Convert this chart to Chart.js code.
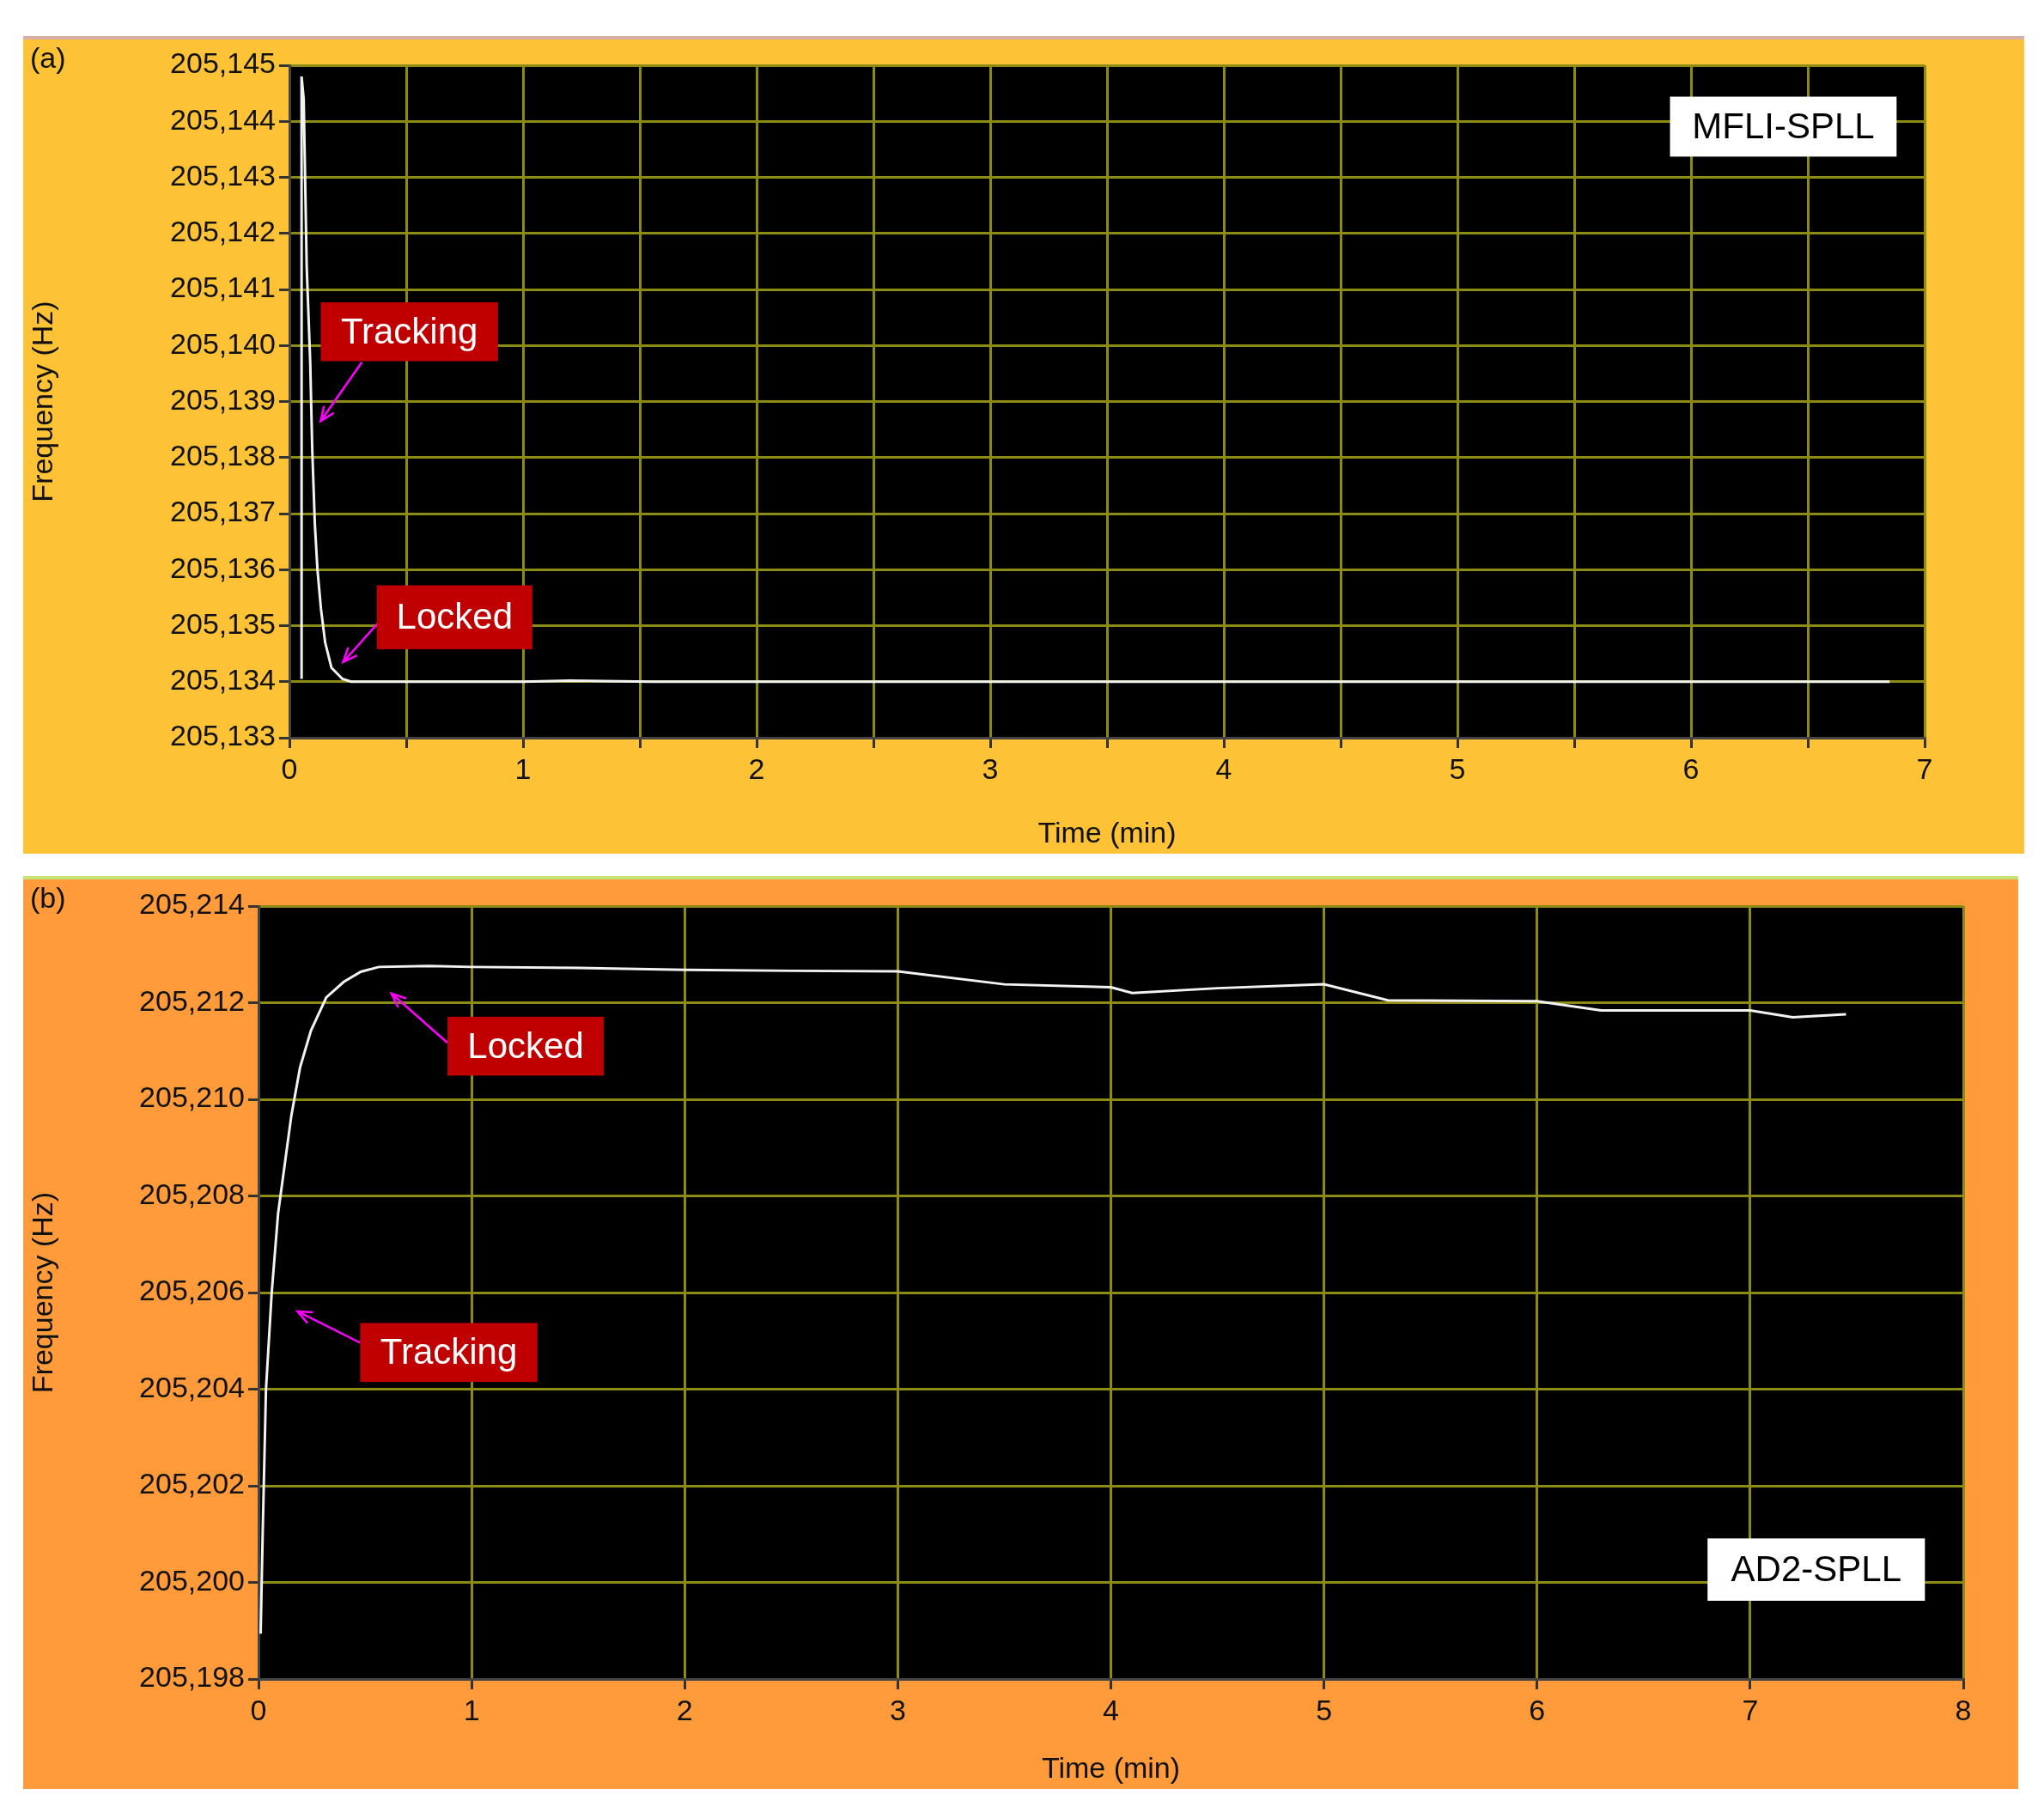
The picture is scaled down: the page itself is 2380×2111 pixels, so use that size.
<!DOCTYPE html>
<html>
<head>
<meta charset="utf-8">
<script src="https://cdn.jsdelivr.net/npm/chart.js@4.4.1/dist/chart.umd.min.js"></script>
<style>
  body { margin: 0; background: #fff; width: 2380px; height: 2111px; position: relative; font-family: "Liberation Sans", Arial, sans-serif; }
  .frame { position: absolute; }
  #fa { left: 27px; top: 42px; width: 2330px; height: 952px; background: #fdc236; border-top: 4px solid #d9b0a8; box-sizing: border-box; }
  #fb { left: 27px; top: 1020px; width: 2323px; height: 1063px; background: #ff9b3a; border-top: 4px solid #c8e27a; box-sizing: border-box; }
  .tag { position: absolute; left: 8px; top: 2px; font-size: 34px; color: #111; }
  canvas { position: absolute; left: 0; top: 0; }
</style>
</head>
<body>
<div class="frame" id="fa"><canvas id="ca"></canvas><div class="tag">(a)</div></div>
<div class="frame" id="fb"><canvas id="cb"></canvas><div class="tag">(b)</div></div>
<script>
// panel (a) MFLI-SPLL
const timeA = [0.052, 0.052, 0.061, 0.074, 0.089, 0.098, 0.109, 0.12, 0.135, 0.153, 0.18, 0.227, 0.264, 1.0, 1.2, 1.55, 3, 5, 6.85];
const freqA = [205134.05, 205144.8, 205144.4, 205141.4, 205139.7, 205138.1, 205136.8, 205136.0, 205135.3, 205134.7, 205134.25, 205134.05, 205134.0, 205134.0, 205134.02, 205134.0, 205134.0, 205134.0, 205134.0];
// panel (b) AD2-SPLL
const timeB = [0.01, 0.02, 0.035, 0.062, 0.092, 0.123, 0.154, 0.195, 0.246, 0.318, 0.40, 0.48, 0.565, 0.8, 1.0, 1.5, 2.0, 2.5, 3.0, 3.5, 4.0, 4.1, 4.5, 5.0, 5.3, 6.0, 6.3, 7.0, 7.2, 7.45];
const freqB = [205198.94, 205201.08, 205203.99, 205206.0, 205207.64, 205208.65, 205209.66, 205210.66, 205211.42, 205212.11, 205212.43, 205212.64, 205212.74, 205212.76, 205212.74, 205212.72, 205212.68, 205212.66, 205212.65, 205212.38, 205212.32, 205212.2, 205212.3, 205212.38, 205212.05, 205212.03, 205211.84, 205211.84, 205211.7, 205211.76];

const gridColor = '#8c8c14';
const tickFont = { family: '"Liberation Sans", Arial, sans-serif', size: 34 };

function fmtHz(v) {
  const k = Math.floor(v / 1000);
  return k + ',' + String(Math.round(v - k * 1000)).padStart(3, '0');
}

const blackArea = {
  id: 'blackArea',
  beforeDraw(chart) {
    const a = chart.chartArea, c = chart.ctx;
    c.save(); c.fillStyle = '#000'; c.fillRect(a.left, a.top, a.right - a.left, a.bottom - a.top); c.restore();
  }
};

// notes: boxes and arrows placed in data units
const notes = {
  id: 'notes',
  afterDatasetsDraw(chart, args, opts) {
    const c = chart.ctx, x = chart.scales.x, y = chart.scales.y;
    c.save();
    (opts.arrows || []).forEach(a => {
      const x0 = x.getPixelForValue(a[0]), y0 = y.getPixelForValue(a[1]);
      const x1 = x.getPixelForValue(a[2]), y1 = y.getPixelForValue(a[3]);
      c.strokeStyle = '#ff00ff'; c.lineWidth = 2.5;
      c.beginPath(); c.moveTo(x0, y0); c.lineTo(x1, y1); c.stroke();
      const ang = Math.atan2(y1 - y0, x1 - x0), h = 18;
      c.beginPath();
      c.moveTo(x1 - h * Math.cos(ang - 0.4), y1 - h * Math.sin(ang - 0.4));
      c.lineTo(x1, y1);
      c.lineTo(x1 - h * Math.cos(ang + 0.4), y1 - h * Math.sin(ang + 0.4));
      c.stroke();
    });
    (opts.boxes || []).forEach(b => {
      const l = x.getPixelForValue(b.x0), r = x.getPixelForValue(b.x1);
      const t = y.getPixelForValue(b.y0), bt = y.getPixelForValue(b.y1);
      c.fillStyle = b.bg; c.fillRect(l, t, r - l, bt - t);
      c.fillStyle = b.fg; c.font = '42px "Liberation Sans", Arial, sans-serif';
      c.textAlign = 'center'; c.textBaseline = 'middle';
      c.fillText(b.text, (l + r) / 2, (t + bt) / 2 + 2);
    });
    c.restore();
  }
};

function makeChart(id, w, h, xs, ys, xMax, xStep, yMin, yMax, yStep, yW, xH, padTop, padRight, noteOpts) {
  const cv = document.getElementById(id);
  cv.width = w; cv.height = h; cv.style.width = w + 'px'; cv.style.height = h + 'px';
  return new Chart(cv, {
    type: 'line',
    data: { datasets: [{ data: xs.map((t, i) => ({ x: t, y: ys[i] })), borderColor: '#f2f2f2', borderWidth: 3, pointRadius: 0, tension: 0 }] },
    options: {
      responsive: false, animation: false, devicePixelRatio: 1,
      layout: { padding: { top: padTop, right: padRight, left: 0, bottom: 0 } },
      plugins: { legend: { display: false }, tooltip: { enabled: false }, notes: noteOpts },
      scales: {
        x: {
          type: 'linear', min: 0, max: xMax,
          ticks: { stepSize: xStep, color: '#111', font: tickFont, maxRotation: 0, autoSkip: false, padding: 6,
            callback: v => Number.isInteger(v) ? String(v) : '' },
          grid: { color: gridColor, lineWidth: 3, tickColor: '#333', tickLength: 12, tickWidth: 3 },
          border: { color: '#444', width: 3 },
          title: { display: true, text: 'Time (min)', color: '#111', font: { size: 34 }, padding: 2 },
          afterFit: s => { s.height = xH; }
        },
        y: {
          min: yMin, max: yMax,
          ticks: { stepSize: yStep, color: '#111', font: tickFont, padding: 4, callback: fmtHz },
          grid: { color: gridColor, lineWidth: 3, tickColor: '#333', tickLength: 12, tickWidth: 3 },
          border: { color: '#444', width: 3 },
          title: { display: true, text: 'Frequency (Hz)', color: '#111', font: { size: 34 }, padding: 4 },
          afterFit: s => { s.width = yW; }
        }
      }
    },
    plugins: [blackArea, notes]
  });
}

makeChart('ca', 2330, 948, timeA, freqA, 7, 0.5, 205133, 205145, 1, 310, 135, 30, 116, {
  arrows: [[0.31, 205139.7, 0.134, 205138.65], [0.38, 205135.05, 0.23, 205134.35]],
  boxes: [
    { x0: 0.134, x1: 0.893, y0: 205140.77, y1: 205139.72, bg: '#c00000', fg: '#fff', text: 'Tracking' },
    { x0: 0.374, x1: 1.04, y0: 205135.72, y1: 205134.58, bg: '#c00000', fg: '#fff', text: 'Locked' },
    { x0: 5.91, x1: 6.88, y0: 205144.44, y1: 205143.37, bg: '#fff', fg: '#000', text: 'MFLI-SPLL' }
  ]
});

makeChart('cb', 2323, 1059, timeB, freqB, 8, 1, 205198, 205214, 2, 274, 128, 31, 64, {
  arrows: [[0.887, 205211.17, 0.624, 205212.19], [0.477, 205204.96, 0.183, 205205.61]],
  boxes: [
    { x0: 0.887, x1: 1.62, y0: 205211.71, y1: 205210.49, bg: '#c00000', fg: '#fff', text: 'Locked' },
    { x0: 0.477, x1: 1.309, y0: 205205.37, y1: 205204.15, bg: '#c00000', fg: '#fff', text: 'Tracking' },
    { x0: 6.80, x1: 7.82, y0: 205200.91, y1: 205199.62, bg: '#fff', fg: '#000', text: 'AD2-SPLL' }
  ]
});
</script>
</body>
</html>
